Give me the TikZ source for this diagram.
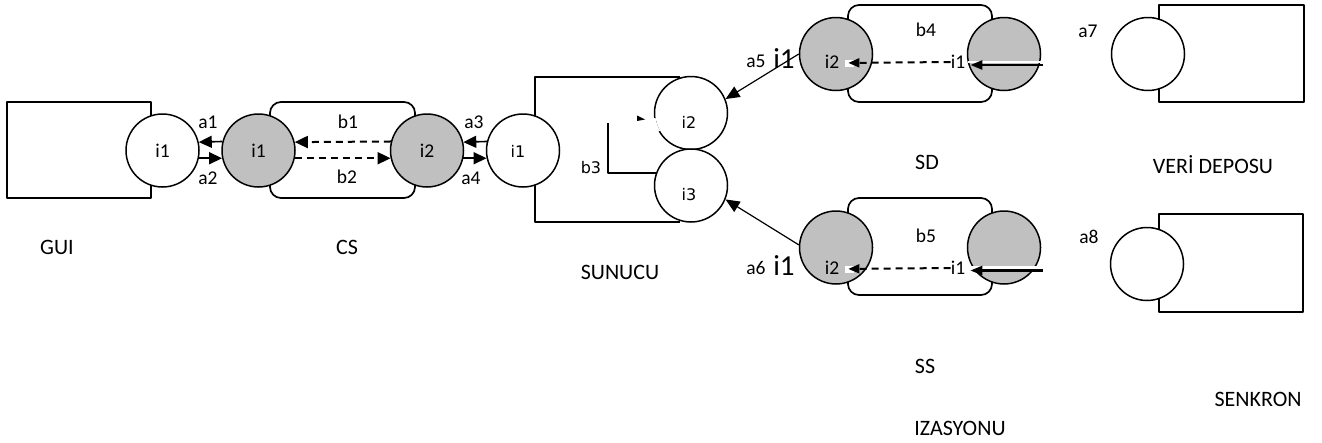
\documentclass[tikz,border=0pt]{standalone}
\usepackage{fontspec}
\setmainfont{Carlito}
\newfontfamily\djv{DejaVu Sans}
\usetikzlibrary{arrows.meta,calc}
\definecolor{portgray}{HTML}{C0C0C0}
\begin{document}
\begin{tikzpicture}[x=1pt,y=-1pt,
  line join=round,
  port/.style={circle,draw=black,line width=1.5pt,minimum size=73pt,inner sep=0pt,fill=white,
               font=\fontsize{19.5}{21}\selectfont},
  gport/.style={port,fill=portgray},
  frame/.style={draw=black,line width=1.7pt},
  lbl/.style={inner sep=0pt,font=\fontsize{19.5}{21}\selectfont},
  dlbl/.style={inner sep=0pt,font=\djv\fontsize{16}{18}\selectfont},
  big/.style={inner sep=0pt,font=\fontsize{29}{31}\selectfont},
  title/.style={inner sep=0pt,font=\fontsize{22}{24}\selectfont},
  arr/.style={line width=1.6pt,-{Triangle[length=13pt,width=12pt]}},
  darr/.style={line width=2pt,dash pattern=on 7pt off 5pt,-{Triangle[length=13pt,width=12pt]}},
  sarr/.style={line width=2pt,dash pattern=on 7pt off 5pt,-{Triangle[length=11pt,width=9pt]}},
  inarr/.style={line width=2.5pt,-{Triangle[length=12pt,width=9pt]}},
  thinarr/.style={line width=1.2pt,-{Triangle[length=14pt,width=12pt]}}
]
\useasboundingbox (0,0) rectangle (1322,442);

% ---------- GUI ----------
\draw[frame] (151,102) -- (7,102) -- (7,198) -- (151,198) -- cycle;
\node[port] (gui) at (162.5,150.5) {i1};

% ---------- CS ----------
\draw[frame,rounded corners=11pt] (270,102) rectangle (415,198);
\node[gport] (csi1) at (258.5,150.5) {i1};
\node[gport] (csi2) at (427,150.5) {i2};

% ---------- SUNUCU ----------
\draw[frame] (680,77) -- (535,77) -- (535,222) -- (680,222);
\node[port] (si1) at (523,150.5) {};
\node[dlbl] at (518,151) {i1};
\node[port] (si2) at (691,113) {};
\node[port] (si3) at (691,185.5) {};
\node[dlbl] at (689,122) {i2};
\node[dlbl] at (689,195) {i3};
\coordinate (b3top) at (608,123);
\draw[line width=1.5pt] (b3top) |- (si3.160);
\node[dlbl] at (591,168) {b3};
\draw[white,line width=3pt] (si2.188) arc[start angle=188,end angle=210,radius=36.5pt];
\fill[black] (637,115.5) -- (645,119.5) -- (637,121) -- cycle;

% GUI <-> CS <-> SUNUCU
\draw[arr] (csi1.166.5) -- (gui.13.5);
\draw[arr] (gui.-12) -- (csi1.192);
\node[lbl] at (208,122) {a1};
\node[lbl] at (208,178) {a2};
\draw[darr] (csi2.166.5) -- (csi1.13.5);
\draw[darr] (csi1.-12) -- (csi2.192);
\node[lbl] at (348,122) {b1};
\node[lbl] at (347,177) {b2};
\draw[arr] (si1.166.5) -- (csi2.13.5);
\draw[arr] (csi2.-12) -- (si1.192);
\node[lbl] at (474,122) {a3};
\node[lbl] at (471,178) {a4};

% ---------- SD ----------
\draw[frame,rounded corners=11pt] (848,5) rectangle (992,102);
\node[gport] (sdl) at (836,54) {};
\node[gport] (sdr) at (1004,54) {};
\node[lbl] (sdi2) at (832,62) {i2};
\node[lbl] (sdi1) at (958,62) {i1};
\node[lbl] at (926,30) {b4};
\fill[white] (845,59.5) rectangle (854,67);
\draw[sarr,shorten >=9pt] (sdi1.west) -- (sdi2.east |- 0,63);
\coordinate (sdin) at (1043,65);
\draw[white,line width=2.5pt] (1043,62) -- (968,62);
\draw[inarr,shorten >=5pt] (sdin) -- (sdi1.east |- 0,65);
\draw[thinarr] (sdl.180) -- (si2.22);
\node[lbl] at (756,61) {a5};
\node[big] at (784,59) {i1};
\node[title] at (927,162) {SD};

% ---------- SS ----------
\draw[frame,rounded corners=11pt] (848,198) rectangle (992,295);
\node[gport] (ssl) at (836,247.5) {};
\node[gport] (ssr) at (1004,247.5) {};
\node[lbl] (ssi2) at (832,268) {i2};
\node[lbl] (ssi1) at (958,268) {i1};
\node[lbl] at (926,236) {b5};
\fill[white] (845,265.5) rectangle (854,273);
\draw[sarr,shorten >=9pt] (ssi1.west) -- (ssi2.east |- 0,269);
\coordinate (ssin) at (1043,270.5);
\draw[white,line width=2.5pt] (1043,267.3) -- (968,267.3);
\draw[inarr,shorten >=5pt] (ssin) -- (ssi1.east |- 0,270.5);
\draw[thinarr] (ssl.176) -- (si3.-22);
\node[lbl] at (756,268) {a6};
\node[big] at (784,266) {i1};
\node[title] at (925,366) {SS};
\node[title] at (960,428) {IZASYONU};

% ---------- VERİ DEPOSU ----------
\draw[frame] (1159,5) rectangle (1304,102);
\node[port] (vd) at (1148,54) {};
\node[lbl] at (1088,31) {a7};
\node[title] at (1213,165) {VERİ DEPOSU};

% ---------- SENKRON ----------
\draw[frame] (1159,214) rectangle (1303,312);
\node[port] (sk) at (1147,264) {};
\node[lbl] at (1089,237) {a8};
\node[title] at (1258,399) {SENKRON};

% ---------- titles ----------
\node[title] at (57,247) {GUI};
\node[title] at (347,247) {CS};
\node[title] at (620,272) {SUNUCU};
\end{tikzpicture}
\end{document}
